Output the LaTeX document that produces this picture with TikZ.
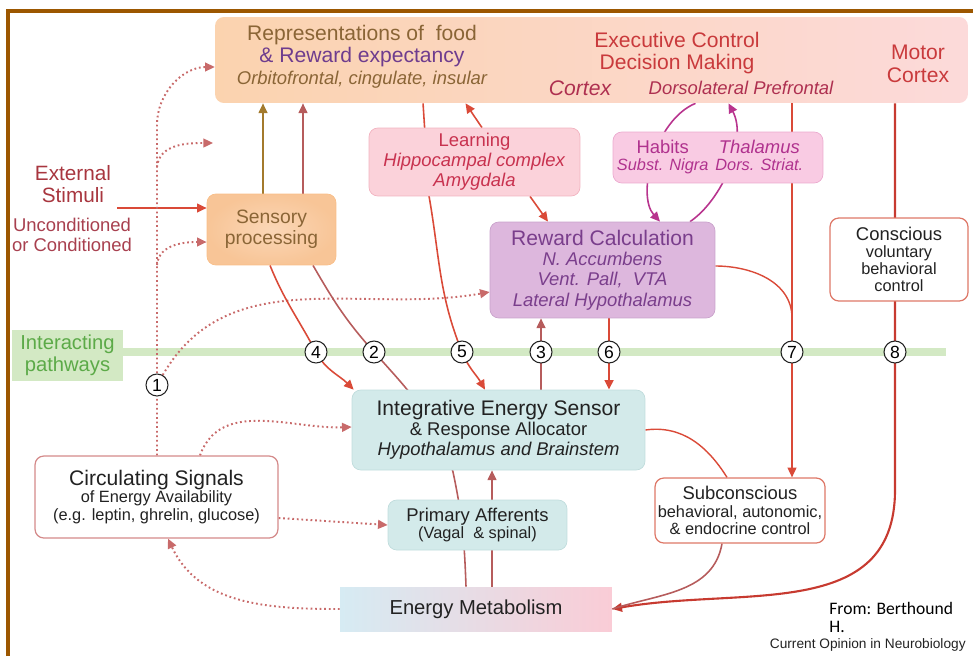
\documentclass[tikz,border=0pt]{standalone}
\usepackage{fontspec}
\setmainfont{Liberation Sans}
\newfontfamily\notefont{Carlito}
\usetikzlibrary{arrows.meta}

\definecolor{framebrown}{HTML}{9C5700}
\definecolor{topL}{HTML}{FBD3AF}
\definecolor{topR}{HTML}{FCDADA}
\definecolor{foodtxt}{HTML}{8A6536}
\definecolor{rewtxt}{HTML}{6E3C8E}
\definecolor{exectxt}{HTML}{C93A3C}
\definecolor{ctxtxt}{HTML}{AE3050}
\definecolor{sensfill}{HTML}{F8C597}
\definecolor{learnfill}{HTML}{FBD2DA}
\definecolor{learnline}{HTML}{F2B3C0}
\definecolor{learntxt}{HTML}{C8324F}
\definecolor{habitfill}{HTML}{F9CBE3}
\definecolor{habitline}{HTML}{EBAACF}
\definecolor{habittxt}{HTML}{B0328E}
\definecolor{calcfill}{HTML}{DDB7DD}
\definecolor{calcline}{HTML}{C9A2CB}
\definecolor{calctxt}{HTML}{7A3E8C}
\definecolor{tealfill}{HTML}{D3EAEA}
\definecolor{tealline}{HTML}{C0DCDC}
\definecolor{energyL}{HTML}{D6EBF3}
\definecolor{energyR}{HTML}{FACCD6}
\definecolor{bandgreen}{HTML}{D3E9C4}
\definecolor{bandtxt}{HTML}{5CAA48}
\definecolor{stimtxt}{HTML}{A8363F}
\definecolor{condtxt}{HTML}{A8404F}
\definecolor{txtdark}{HTML}{222222}
\definecolor{arrred}{HTML}{DA4A38}
\definecolor{arrdusk}{HTML}{B65C5C}
\definecolor{arrbrown}{HTML}{A37A2C}
\definecolor{arrdot}{HTML}{C86A6A}
\definecolor{arrhabit}{HTML}{B8348E}
\definecolor{arrexec}{HTML}{C93C6E}
\definecolor{arrmotor}{HTML}{A3303F}
\definecolor{arreight}{HTML}{C73A30}
\definecolor{boxline}{HTML}{DE7868}
\definecolor{circline}{HTML}{D48A8A}

\pgfdeclarelayer{band}
\pgfdeclarelayer{wires}
\pgfsetlayers{band,wires,main}

\begin{document}
\begin{tikzpicture}[x=0.02cm, y=-0.02cm,
    cbox/.style={rectangle, rounded corners=5pt, inner sep=0pt, align=center},
    pbox/.style={cbox, draw=boxline, line width=0.7pt, fill=white, text=txtdark},
    fbig/.style={font=\fontsize{12}{13.5}\selectfont, align=center},
    fbigit/.style={font=\fontsize{12}{13.5}\selectfont\itshape, align=center},
    fmidit/.style={font=\fontsize{10.5}{11.5}\selectfont\itshape, align=center},
    numcirc/.style={circle, draw=txtdark, line width=0.6pt, fill=white, inner sep=0pt, minimum size=0.44cm, font=\fontsize{10}{10}\selectfont},
    arrw/.style={-{Triangle[length=5.5pt,width=5pt]}, line width=0.9pt},
    dotwire/.style={arrdot, line width=1.1pt, dash pattern=on 1pt off 1.6pt, -{Triangle[length=5.5pt,width=5pt]}}
]
\useasboundingbox (0,0) rectangle (973,656);

% Cortex band
\node[cbox, minimum width=15.06cm, minimum height=1.72cm, left color=topL, right color=topR] (top) at (591.5,60) {};
\node[fbig, text=foodtxt] (foodA) at (362,35) {Representations of \ food};
\node[fbig, text=rewtxt] (foodB) at (362,57) {\& Reward expectancy};
\node[fmidit, text=foodtxt] (foodC) at (362,80) {Orbitofrontal, cingulate, insular};
\node[fbig, text=exectxt, font=\fontsize{12}{12.5}\selectfont] (exec) at (677,53) {Executive Control\\Decision Making};
\node[fbigit, text=ctxtxt] (ctx) at (580,88) {Cortex};
\node[fmidit, text=ctxtxt] (dlpf) at (741,88) {Dorsolateral Prefrontal};
\node[fbig, text=exectxt, font=\fontsize{12}{13}\selectfont] (motor) at (918,64) {Motor\\Cortex};
\coordinate (dbl1) at (515,50);
\coordinate (dbl2) at (582,50);
\coordinate (mot1) at (808,60);
\coordinate (mot2) at (850,60);

% Boxes
\node[cbox, inner color=sensfill!70!white, outer color=sensfill, draw=sensfill!90!orange, minimum width=2.58cm, minimum height=1.42cm, text=foodtxt, font=\fontsize{11}{12}\selectfont] (sens) at (271.5,229.5) {Sensory\\processing};
\node[cbox, fill=learnfill, draw=learnline, minimum width=4.22cm, minimum height=1.36cm, text=learntxt, font=\fontsize{10.5}{11.3}\selectfont] (learn) at (474.5,162) {Learning\\\textit{Hippocampal complex}\\\textit{Amygdala}};
\node[cbox, fill=habitfill, draw=habitline, minimum width=4.2cm, minimum height=1.02cm, text=habittxt, font=\fontsize{9.3}{9.6}\selectfont] (habit) at (718,157.5) {\begin{tabular}{@{}c@{\hspace{4pt}}c@{\hspace{9pt}}}{\fontsize{10.5}{11}\selectfont Habits} & {\fontsize{10.5}{11}\selectfont\itshape Thalamus}\\ \textit{Subst. Nigra} & \textit{Dors. Striat.}\end{tabular}};
\node[cbox, fill=calcfill, draw=calcline, minimum width=4.5cm, minimum height=1.92cm, text=calctxt, font=\fontsize{10.5}{11.6}\selectfont\itshape] (calc) at (602.5,270) {{\fontsize{12}{13}\selectfont\upshape Reward Calculation}\\N. Accumbens\\Vent. Pall, \ VTA\\Lateral Hypothalamus};
\node[pbox, minimum width=2.76cm, minimum height=1.66cm, font=\fontsize{9.3}{9.7}\selectfont] (consc) at (899,259.5) {{\fontsize{10.5}{11}\selectfont Conscious}\\voluntary\\behavioral\\control};
\node[cbox, fill=tealfill, draw=tealline, minimum width=5.86cm, minimum height=1.6cm, text=txtdark, font=\fontsize{10.5}{11.3}\selectfont] (integ) at (498.5,430) {{\fontsize{12}{13}\selectfont Integrative Energy Sensor}\\\& Response Allocator\\\textit{Hypothalamus and Brainstem}};
\node[pbox, draw=circline, minimum width=4.86cm, minimum height=1.64cm, font=\fontsize{9.3}{10.2}\selectfont] (circ) at (156.5,497) {{\fontsize{12}{13}\selectfont Circulating Signals}\\of Energy Availability\\(e.g. leptin, ghrelin, glucose)};
\node[cbox, fill=tealfill, draw=tealline, minimum width=3.58cm, minimum height=1.0cm, text=txtdark, font=\fontsize{9.3}{10.2}\selectfont] (prim) at (477.5,525) {{\fontsize{10.5}{11}\selectfont Primary Afferents}\\(Vagal \ \& spinal)};
\node[pbox, minimum width=3.4cm, minimum height=1.3cm, font=\fontsize{9.3}{10}\selectfont] (subc) at (740,510.5) {{\fontsize{10.5}{11}\selectfont Subconscious}\\behavioral, autonomic,\\\& endocrine control};
\node[rectangle, inner sep=0pt, left color=energyL, right color=energyR, minimum width=5.44cm, minimum height=0.88cm, text=txtdark, font=\fontsize{11.5}{12}\selectfont] (energy) at (476,609) {Energy Metabolism};

% Stimuli and pathway label
\node[fbig, text=stimtxt, font=\fontsize{11.8}{12.5}\selectfont] (stim) at (73,184) {External\\Stimuli};
\node[text=condtxt, align=center, font=\fontsize{10.5}{11.3}\selectfont] (cond) at (72,235) {Unconditioned\\or Conditioned};
\node[rectangle, fill=bandgreen, inner sep=0pt, minimum width=2.22cm, minimum height=1.02cm, text=bandtxt, align=center, font=\fontsize{11.5}{12.5}\selectfont] (pathlbl) at (67.5,355.5) {Interacting\\pathways};
\coordinate (bandend) at (946,352);
\coordinate (stimout) at (117,208);

% Numbered pathways
\node[numcirc] (c1) at (157,385) {1};
\node[numcirc] (c4) at (316,352) {4};
\node[numcirc] (c2) at (374,352) {2};
\node[numcirc] (c5) at (462,352) {5};
\node[numcirc] (c3) at (541,352) {3};
\node[numcirc] (c6) at (609,352) {6};
\node[numcirc] (c7) at (792,352) {7};
\node[numcirc] (c8) at (895,352) {8};

% Source
\node[anchor=north west, inner sep=0pt, align=left, font=\notefont\fontsize{10}{10}\selectfont] (src) at (829,602) {From: Berthound\\H.};
\node[anchor=south east, inner sep=0pt, text=txtdark, font=\fontsize{7.8}{8}\selectfont] (journal) at (966,652) {Current Opinion in Neurobiology};

\begin{pgfonlayer}{band}
\draw[bandgreen, line width=4.5pt] (pathlbl.east |- bandend) -- (bandend);
\end{pgfonlayer}

\begin{pgfonlayer}{wires}
% cortex arrows
\draw[{Triangle[length=5.5pt,width=5pt]}-{Triangle[length=5.5pt,width=5pt]}, arrexec, line width=1pt] (dbl1) -- (dbl2);
\draw[arrw, arrmotor] (mot1) -- (mot2);
% sensory input and output
\draw[arrw, arrred] (stimout) -- (stimout -| sens.west);
\draw[arrw, arrbrown] ([xshift=-0.17cm]sens.north) -- ([xshift=-0.17cm]sens.north |- top.south);
\draw[arrw, arrdusk] ([xshift=0.63cm]sens.north) -- ([xshift=0.63cm]sens.north |- top.south);
% pathway 1 (circulating signals)
\coordinate (dotA) at (157,167);
\coordinate (dotAend) at (213,143);
\coordinate (dotB) at (157,265);
\draw[dotwire] (c1 |- circ.north) -- (157,125) to[out=90,in=180] ([yshift=-0.14cm]top.west);
\draw[dotwire] (dotA) to[out=85,in=180] (dotAend);
\draw[dotwire] (dotB) to[out=85,in=180] ([yshift=-0.25cm]sens.west);
\draw[dotwire] (c1) to[out=60,in=190] ([yshift=-0.44cm]calc.west);
\draw[dotwire] ([xshift=0.87cm]circ.north) to[out=70,in=182] ([yshift=0.06cm]integ.west);
\draw[dotwire] ([yshift=-0.42cm]circ.east) -- (prim.west);
\draw[dotwire] (energy.west) to[out=180,in=-65] ([xshift=0.23cm]circ.south);
% pathways 4, 2, 5
\draw[arrw, arrred] ([xshift=-0.03cm]sens.south) to[out=-68,in=118] (c4.center) to[out=-62,in=135] ([xshift=0.04cm]integ.north west);
\draw[arrdusk, line width=0.9pt] ([xshift=-0.2cm]energy.north) to[out=92,in=-78] (453,472) to[out=108,in=-48] (c2.center) to[out=132,in=-60] ([xshift=0.83cm]sens.south);
\draw[arrw, arrred] ([xshift=-3.37cm]top.south) -- (429,196) to[out=-80,in=112] (c5.center) to[out=-68,in=120] ([xshift=-0.27cm]integ.north);
% learning
\draw[arrw, arrred] ([xshift=0.15cm]learn.north) -- ([xshift=-2.52cm]top.south);
\draw[arrw, arrred] ([xshift=1.11cm]learn.south) -- ([xshift=-1.09cm]calc.north);
% habits loop
\draw[arrw, arrhabit] ([xshift=2.08cm]top.south) .. controls (655,120) and (636,195) .. ([xshift=1.15cm]calc.north);
\draw[arrw, arrhabit] ([xshift=1.75cm]calc.north) .. controls (722,200) and (748,140) .. ([xshift=2.74cm]top.south);
% pathways 3 and 6
\draw[arrw, arrdusk] (c3 |- integ.north) -- (c3 |- calc.south);
\draw[arrw, arrred, line width=1.3pt] (c6 |- calc.south) -- (c6 |- integ.north);
% pathway 7
\coordinate (join7) at (792,318);
\draw[arrw, arrred, line width=0.8pt] (c7 |- top.south) -- (c7 |- subc.north);
\draw[arrred, line width=0.8pt] ([yshift=0.08cm]calc.east) to[out=0,in=90] (join7);
% pathway 8 and outputs to metabolism
\coordinate (bend8) at (895,490);
\draw[arrw, arreight, line width=1.2pt] (c8 |- top.south) -- (c8 |- bend8) to[out=-90,in=10,looseness=1.1] (energy.east);
\draw[arrdusk, line width=0.9pt] ([xshift=-0.36cm]subc.south) to[out=-100,in=18] (energy.east);
\draw[arrred, line width=0.8pt] (integ.east) to[out=8,in=122] ([xshift=-0.26cm]subc.north);
\draw[arrw, arrdusk] ([xshift=0.32cm]energy.north) -- ([xshift=0.32cm]energy.north |- integ.south);
\end{pgfonlayer}

% Frame
\draw[framebrown, line width=1.8pt] (8,656) -- (8,11) -- (973,11);
\end{tikzpicture}
\end{document}
